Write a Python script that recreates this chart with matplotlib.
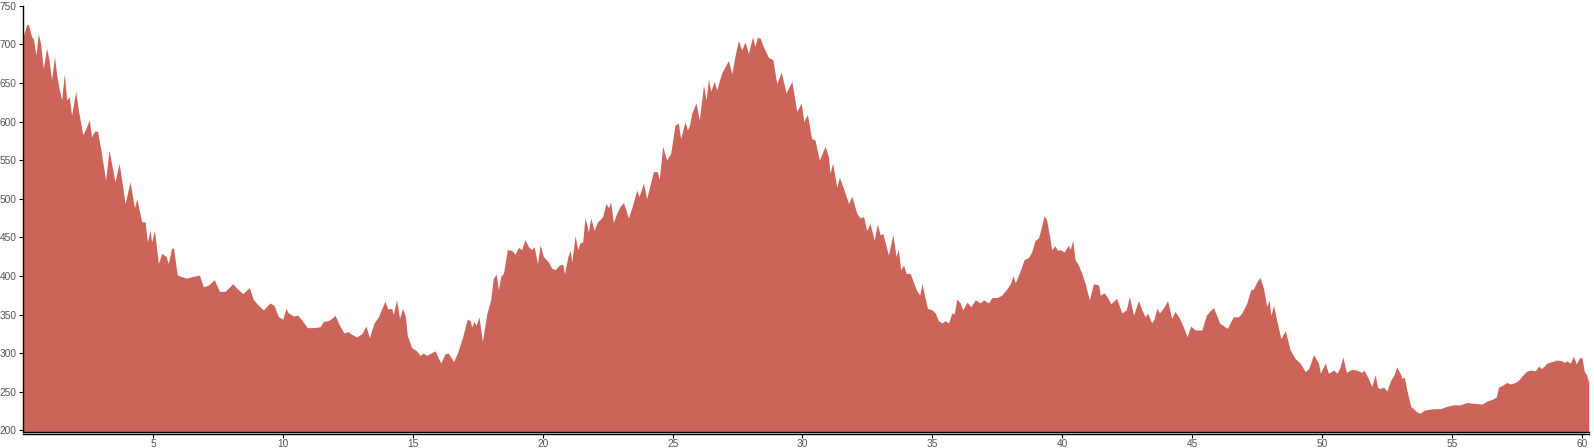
import matplotlib
matplotlib.use('Agg')
import matplotlib.pyplot as plt
import numpy as np

# elevation profile, split in a few stretches
dist_a = [0.0, 0.14, 0.21, 0.33, 0.40, 0.50, 0.59, 0.68, 0.78, 0.91, 1.00, 1.10, 1.21, 1.30, 1.40,
          1.49, 1.59, 1.68, 1.78, 1.87, 2.03, 2.13, 2.30, 2.42, 2.55, 2.64, 2.77, 2.87, 3.00, 3.18,
          3.31, 3.54, 3.70, 3.93, 4.12, 4.29, 4.38, 4.57, 4.70, 4.79, 4.89, 4.95, 5.06, 5.21, 5.34,
          5.51, 5.59, 5.72, 5.79, 5.94, 6.11, 6.30, 6.49, 6.79, 6.94, 7.13, 7.36, 7.56]
elev_a = [710, 725, 726, 710, 707, 686, 714, 700, 669, 695, 680, 654, 684, 660, 641,
          628, 662, 628, 632, 608, 639, 615, 583, 591, 602, 580, 588, 587, 563, 524,
          563, 522, 546, 494, 522, 488, 500, 470, 470, 444, 459, 444, 459, 416, 429,
          425, 416, 436, 436, 401, 399, 397, 399, 401, 386, 388, 395, 380]

dist_b = [7.78, 7.90, 8.07, 8.23, 8.46, 8.71, 8.87, 9.06, 9.25, 9.51, 9.66, 9.83, 10.0, 10.12, 10.21,
          10.41, 10.57, 10.73, 10.94, 11.18, 11.43, 11.56, 11.75, 11.88, 12.01, 12.18, 12.36, 12.52,
          12.61, 12.84, 13.04, 13.20, 13.33, 13.51, 13.68, 13.80, 13.93, 14.04, 14.19, 14.25, 14.38,
          14.49, 14.61, 14.72, 14.79, 14.96, 15.15, 15.28]
elev_b = [380, 384, 390, 384, 377, 385, 369, 362, 356, 365, 362, 347, 344, 358, 352,
          348, 349, 343, 333, 333, 334, 341, 342, 345, 349, 336, 326, 328,
          325, 321, 325, 335, 320, 339, 347, 357, 367, 357, 358, 350, 369,
          345, 358, 347, 323, 307, 303, 297]

dist_c = [15.41, 15.54, 15.86, 16.08, 16.24, 16.37, 16.57, 16.72, 16.92, 17.10, 17.21, 17.27, 17.36,
          17.44, 17.55, 17.68, 17.85, 18.00, 18.10, 18.21, 18.30, 18.39, 18.49, 18.64, 18.81, 18.94,
          19.07, 19.19, 19.32, 19.45, 19.58, 19.67, 19.80, 19.90, 20.03, 20.22, 20.35, 20.48, 20.64,
          20.77, 20.84, 20.97, 21.06, 21.12, 21.25, 21.35, 21.44, 21.54, 21.63, 21.76, 21.85, 21.98,
          22.11, 22.21, 22.31, 22.44, 22.53, 22.62, 22.72, 22.85]
elev_c = [300, 297, 303, 287, 299, 300, 289, 300, 321, 344, 342, 334, 341,
          336, 347, 315, 351, 369, 397, 402, 382, 400, 403, 434, 433, 428,
          437, 434, 447, 438, 434, 438, 416, 440, 425, 418, 410, 408, 414,
          415, 403, 425, 433, 418, 452, 434, 443, 444, 476, 457, 475, 459,
          470, 473, 477, 494, 488, 496, 469, 481]

dist_d = [22.98, 23.11, 23.21, 23.30, 23.43, 23.62, 23.71, 23.88, 24.00, 24.26, 24.41, 24.49, 24.62,
          24.77, 24.93, 25.09, 25.22, 25.31, 25.48, 25.57, 25.65, 25.74, 25.90, 26.03, 26.19, 26.29,
          26.38, 26.47, 26.60, 26.70, 26.89, 27.02, 27.15, 27.28, 27.41, 27.53, 27.66, 27.79, 27.92,
          28.08, 28.17, 28.26, 28.37, 28.52, 28.69, 28.86, 29.01, 29.18, 29.37, 29.59, 29.78, 29.95,
          30.05, 30.19, 30.35, 30.48, 30.65]
elev_d = [490, 495, 485, 475, 488, 511, 503, 520, 500, 535, 535, 525, 568,
          550, 559, 595, 598, 578, 600, 589, 595, 611, 624, 602, 647, 628,
          655, 639, 652, 641, 663, 671, 679, 662, 686, 705, 693, 703, 688,
          710, 697, 709, 708, 695, 683, 680, 649, 664, 637, 652, 613, 624,
          600, 609, 578, 576, 550]

dist_e = [30.87, 31.00, 31.06, 31.16, 31.32, 31.42, 31.58, 31.77, 31.90, 32.09, 32.22, 32.35, 32.47,
          32.60, 32.76, 32.88, 32.99, 33.09, 33.31, 33.48, 33.60, 33.69, 33.78, 33.89, 33.99, 34.15,
          34.38, 34.51, 34.60, 34.68, 34.81, 34.98, 35.11, 35.23, 35.37, 35.49, 35.62, 35.75, 35.84,
          35.94, 36.07, 36.17, 36.33, 36.48, 36.65, 36.84, 36.97, 37.16, 37.29, 37.48, 37.67, 37.84,
          38.00, 38.10, 38.19, 38.36]
elev_e = [568, 554, 533, 546, 515, 528, 513, 494, 503, 481, 475, 477, 459,
          468, 446, 467, 453, 455, 427, 454, 425, 434, 408, 414, 403, 403,
          382, 375, 390, 377, 358, 356, 352, 342, 339, 342, 339, 352, 351,
          370, 365, 356, 366, 360, 369, 365, 369, 365, 372, 372, 375, 382,
          390, 400, 391, 405]

dist_f = [38.53, 38.70, 38.82, 38.95, 39.08, 39.17, 39.30, 39.40, 39.51, 39.59, 39.72, 39.81, 39.92,
          40.07, 40.24, 40.30, 40.40, 40.49, 40.62, 40.75, 40.88, 41.04, 41.20, 41.40, 41.46, 41.61,
          41.74, 41.87, 42.09, 42.29, 42.46, 42.58, 42.74, 42.93, 43.06, 43.19, 43.28, 43.44, 43.53,
          43.64, 43.74, 43.92, 44.05, 44.21, 44.34, 44.51, 44.66, 44.80, 44.94, 45.11, 45.37, 45.54,
          45.69, 45.82, 46.05]
elev_f = [421, 424, 431, 446, 449, 460, 478, 472, 451, 434, 439, 433, 434,
          431, 440, 434, 446, 421, 414, 403, 390, 369, 390, 388, 375, 378,
          372, 364, 371, 352, 356, 373, 349, 368, 356, 347, 352, 339, 344,
          358, 352, 360, 368, 345, 354, 345, 334, 321, 335, 330, 330, 349,
          355, 359, 339]

dist_g = [46.35, 46.58, 46.78, 46.91, 47.10, 47.25, 47.36, 47.48, 47.61, 47.74, 47.87, 47.95, 48.03,
          48.13, 48.26, 48.41, 48.58, 48.77, 48.96, 49.15, 49.35, 49.48, 49.67, 49.86, 49.93, 50.12,
          50.24, 50.44, 50.57, 50.67, 50.80, 50.93, 51.14, 51.33, 51.52, 51.61, 51.78, 51.91, 52.04,
          52.13, 52.21, 52.36, 52.49, 52.64, 52.77, 52.87, 53.00, 53.07, 53.16, 53.26, 53.41, 53.64]
elev_g = [332, 347, 347, 352, 365, 382, 383, 392, 398, 384, 360, 369, 349,
          362, 341, 319, 329, 304, 293, 287, 276, 280, 298, 287, 274, 287,
          274, 278, 274, 280, 295, 275, 279, 278, 275, 278, 267, 257, 272,
          256, 254, 256, 251, 265, 272, 282, 274, 267, 269, 252, 231, 224]

dist_h = [53.77, 53.92, 54.09, 54.29, 54.55, 54.80, 55.06, 55.31, 55.57, 55.83, 56.15, 56.35, 56.53,
          56.70, 56.79, 56.92, 57.11, 57.24, 57.43, 57.56, 57.68, 57.85, 58.00, 58.20, 58.33, 58.45,
          58.65, 58.84, 59.03, 59.23, 59.32, 59.42, 59.55, 59.67, 59.78, 59.91, 60.00, 60.09, 60.17,
          60.26]
elev_h = [222, 226, 227, 228, 228, 231, 233, 233, 236, 235, 234, 238, 240,
          243, 256, 258, 262, 260, 262, 265, 270, 276, 278, 277, 283, 280,
          287, 289, 291, 290, 288, 290, 287, 296, 286, 294, 294, 276, 272,
          262]

y_ticks = [200, 250, 300, 350, 400, 450, 500, 550, 600, 650, 700, 750]
x_ticks = [5, 10, 15, 20, 25, 30, 35, 40, 45, 50, 55, 60]

dist = np.array(dist_a + dist_b + dist_c + dist_d + dist_e + dist_f + dist_g + dist_h)
elev = np.array(elev_a + elev_b + elev_c + elev_d + elev_e + elev_f + elev_g + elev_h)

plt.rcParams['font.family'] = ['Liberation Sans', 'DejaVu Sans']

fig = plt.figure(figsize=(15.94, 4.48), dpi=100)
W, H = 1594, 448
ax = fig.add_axes([23 / W, 1 - 432 / H, (1589 - 23) / W, (432 - 5.7) / H])

y_bottom = 197.8
ax.fill_between(dist, elev, y_bottom, color='#cd645a', linewidth=0)
ax.set_xlim(0, 60.27)
ax.set_ylim(y_bottom, 750)

ax.set_yticks(y_ticks)
ax.set_xticks(x_ticks)
ax.tick_params(axis='both', labelsize=7.3, labelcolor='#555555', colors='black',
               length=3, width=0.8)
ax.tick_params(axis='y', pad=1.5)
ax.tick_params(axis='x', pad=0.5)
for lab in ax.get_yticklabels() + ax.get_xticklabels():
    lab.set_color('#555555')

ax.spines['top'].set_visible(False)
ax.spines['right'].set_visible(False)
ax.spines['left'].set_linewidth(1.0)
ax.spines['bottom'].set_linewidth(1.0)
ax.spines['bottom'].set_position(('outward', 1.5))
ax.axhline(y_bottom, color='black', linewidth=1.0, clip_on=False)

fig.savefig('out.png', dpi=100, facecolor='white')
